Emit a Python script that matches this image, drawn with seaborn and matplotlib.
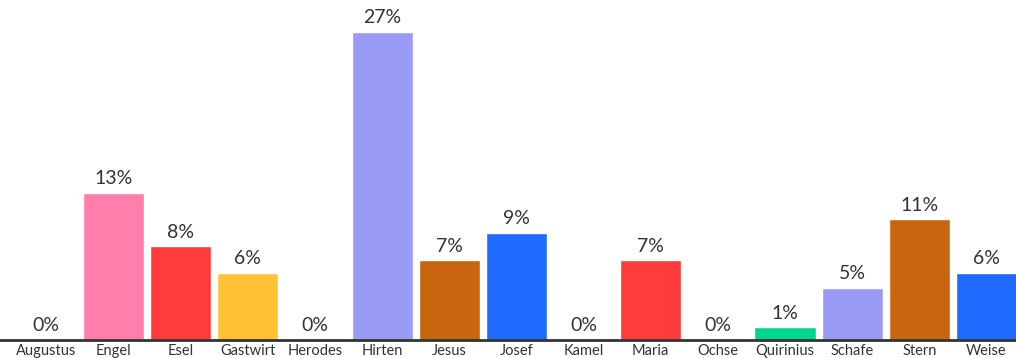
import matplotlib
matplotlib.use("Agg")
import matplotlib.pyplot as plt
import seaborn as sns
import pandas as pd

# daten
kategorien = ["Augustus", "Engel", "Esel", "Gastwirt", "Herodes", "Hirten", "Jesus", "Josef",
              "Kamel", "Maria", "Ochse", "Quirinius", "Schafe", "Stern", "Weise"]
anteile = [0, 12.9, 8.2, 5.9, 0, 27.0, 7.0, 9.4, 0, 7.0, 0, 1.1, 4.6, 10.6, 5.9]
beschriftung = ["0%", "13%", "8%", "6%", "0%", "27%", "7%", "9%", "0%", "7%", "0%", "1%", "5%", "11%", "6%"]
farben = ["#999BF5", "#FF7EAB", "#FF3B3B", "#FFC234", "#999BF5", "#999BF5", "#C8650E", "#1F6BFF",
          "#999BF5", "#FF3B3B", "#999BF5", "#00D68F", "#999BF5", "#C8650E", "#1F6BFF"]

df = pd.DataFrame({"kategorie": kategorien, "anteil": anteile})

sns.set_style("white")
plt.rcParams["font.family"] = ["Lato", "DejaVu Sans"]

fig = plt.figure(figsize=(10.16, 3.58), dpi=100)
ax = fig.add_axes([0, 18 / 358, 1, 340 / 358])

sns.barplot(data=df, x="kategorie", y="anteil", hue="kategorie",
            palette=dict(zip(kategorien, farben)), width=0.91, legend=False, ax=ax,
            saturation=1)

for cont, lab in zip(ax.containers, beschriftung):
    ax.bar_label(cont, labels=[lab], padding=4, fontsize=14, color="#333333")

ax.set_xlim(-0.69, 14.44)
ax.set_ylim(0, 29.8)
ax.set_xlabel("")
ax.set_ylabel("")
ax.set_yticks([])
ax.tick_params(axis="x", length=0, pad=3, labelsize=10.5, labelcolor="#333333")
for s in ["top", "right", "left"]:
    ax.spines[s].set_visible(False)
ax.spines["bottom"].set_color("#333333")
ax.spines["bottom"].set_linewidth(2)

fig.savefig("out.png", dpi=100)
